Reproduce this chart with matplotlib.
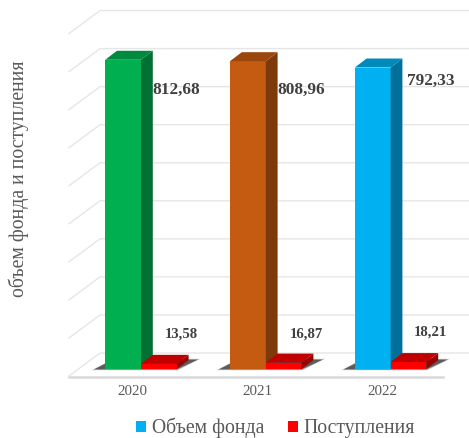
import matplotlib
matplotlib.use("Agg")
import matplotlib.pyplot as plt
from matplotlib.patches import Polygon, Patch

years = ["2020", "2021", "2022"]
fund = [812.68, 808.96, 792.33]
inflow = [13.58, 16.87, 18.21]
fund_labels = ["812,68", "808,96", "792,33"]
inflow_labels = ["13,58", "16,87", "18,21"]
grid_values = list(range(0, 1000, 100))

W, H = 469, 438
PX_PER_CAT = 124.8
PX_PER_VAL = 0.3805
X0, Y0 = 141.0, 369.0

def cx(px):
    return (px - X0) / PX_PER_CAT
def cy(py):
    return (Y0 - py) / PX_PER_VAL
DX = 11.8 / PX_PER_CAT
DY = 9.0 / PX_PER_VAL
BW = 35.8 / PX_PER_CAT

front_cols = ["#00B050", "#C55A11", "#00B0F0"]
side_cols = ["#007033", "#7E390B", "#00709A"]
top_cols = ["#008A3F", "#9A460D", "#0089BB"]
RED, RED_SIDE, RED_TOP = "#FF0000", "#990000", "#C00000"
GRID = "#E6E6E6"
TXT = "#595959"
LBL = "#404040"
SERIF = "Liberation Serif"

fig = plt.figure(figsize=(W / 100, H / 100), dpi=100)
ax = fig.add_axes([69 / W, 1 - 376.7 / H, 400 / W, (376.7 - 10.5) / H])
ax.set_xlim(cx(69), cx(469))
ax.set_ylim(cy(376.7), cy(10.5))
for s in ax.spines.values():
    s.set_visible(False)

# back wall + side wall + floor grid
BACK_X, SIDE_X = cx(100), cx(69)
def back_y(v):
    return v + cy(353)
SIDE_DY = cy(376.0) - cy(353)
for v in grid_values:
    ax.plot([SIDE_X, BACK_X, cx(469)], [back_y(v) + SIDE_DY, back_y(v), back_y(v)],
            color=GRID, lw=1.0, clip_on=False, zorder=1, solid_joinstyle="miter")
ax.plot([SIDE_X, cx(443)], [cy(376.7)] * 2, color="#D9D9D9", lw=1.8, clip_on=False, zorder=1)

def box(x, val, c_front, c_side, c_top, z):
    ax.bar(x, val, BW, align="edge", color=c_front, zorder=z)
    ax.add_patch(Polygon([(x + BW, 0), (x + BW + DX, DY), (x + BW + DX, val + DY), (x + BW, val)],
                         fc=c_side, ec="none", zorder=z))
    ax.add_patch(Polygon([(x, val), (x + DX, val + DY), (x + BW + DX, val + DY), (x + BW, val)],
                         fc=c_top, ec="none", zorder=z))

for i in range(len(years)):
    # soft shadow on the floor
    for grow, a in [(4, .12), (2.8, .2), (1.6, .3), (0.5, .45)]:
        g = grow / PX_PER_CAT
        gy = grow * .35 / PX_PER_VAL
        ax.add_patch(Polygon([(i - BW - 10 / PX_PER_CAT - g, -gy),
                              (i + BW + g * .3, -gy),
                              (i + BW + 20 / PX_PER_CAT + g, DY + gy),
                              (i - BW + 8 / PX_PER_CAT, DY + gy)],
                             fc="#202020", ec="none", alpha=a, zorder=2))
    box(i - BW, fund[i], front_cols[i], side_cols[i], top_cols[i], 3)
    box(i, inflow[i], RED, RED_SIDE, RED_TOP, 4)

# value labels
fund_pos = [(176.5, 90), (301, 90), (430.5, 80.5)]
inflow_pos = [(181, 334), (306, 334.5), (430.5, 332.5)]
for (px, py), t in zip(fund_pos, fund_labels):
    ax.text(cx(px), cy(py), t, family=SERIF, weight="bold", fontsize=12.4, color=LBL,
            ha="center", va="center", zorder=6)
for (px, py), t in zip(inflow_pos, inflow_labels):
    ax.text(cx(px), cy(py), t, family=SERIF, weight="bold", fontsize=10.6, color=LBL,
            ha="center", va="center", zorder=6)

# axes text
ax.set_yticks([])
ax.set_xticks([i - 8.7 / PX_PER_CAT for i in range(len(years))])
ax.set_xticklabels(years, family=SERIF, fontsize=10.8, color=TXT)
ax.tick_params(axis="x", length=0, pad=6)
ax.set_ylabel("объем фонда и поступления", family=SERIF, fontsize=14.2, color=TXT)
ax.yaxis.set_label_coords((29 - 69) / 400, (376.7 - 178.5) / (376.7 - 10.5))

handles = [Patch(fc="#00B0F0", ec="none", label="Объем фонда"),
           Patch(fc=RED, ec="none", label="Поступления")]
fig.legend(handles=handles, loc="center", bbox_to_anchor=(275.5 / W, 1 - 428 / H), ncol=2,
           frameon=False, handlelength=0.52, handleheight=0.52, handletextpad=0.27,
           columnspacing=1.2, labelcolor=TXT, borderpad=0, borderaxespad=0,
           prop={"family": SERIF, "size": 14.2})

fig.savefig("out.png", dpi=100)
